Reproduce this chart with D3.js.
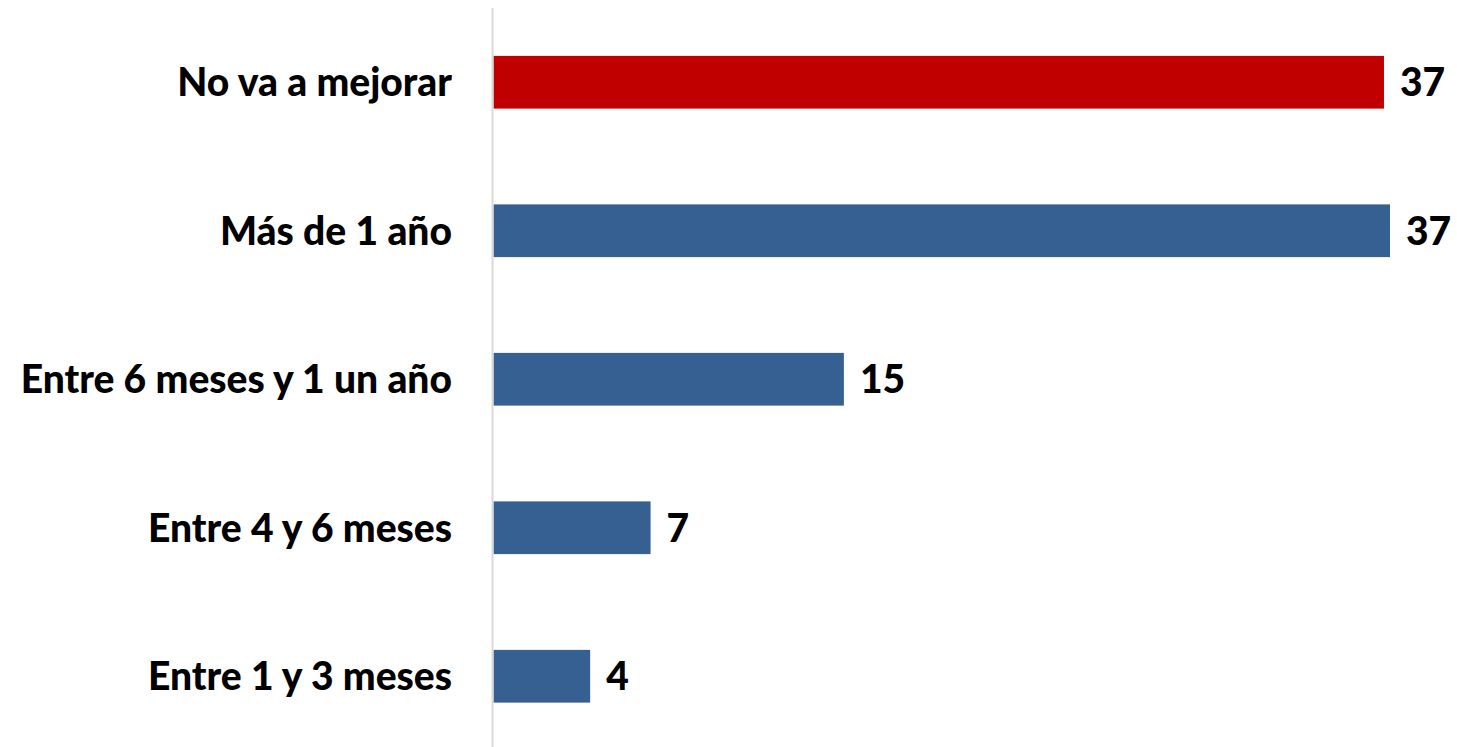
<!DOCTYPE html>
<html><head><meta charset="utf-8">
<script src="https://cdn.jsdelivr.net/npm/d3@7"></script>
<style>body{margin:0;background:#fff}svg{display:block}</style>
</head><body><div id="chart"></div>
<script>
const categories = ["No va a mejorar", "Más de 1 año", "Entre 6 meses y 1 un año", "Entre 4 y 6 meses", "Entre 1 y 3 meses"];
const values = [36.85, 37.1, 14.5, 6.5, 4.0];
const colors = ["#c00000", "#376092", "#376092", "#376092", "#376092"];

const W = 1457, H = 747;
const svg = d3.select("#chart").append("svg").attr("width", W).attr("height", H);
const font = "Lato, 'Open Sans', sans-serif";

const x = d3.scaleLinear().domain([0, 37.1]).range([493.5, 1390]);
const y = d3.scaleBand().domain(categories).range([8, 750.5]).paddingInner(0.645).paddingOuter(0.3225);

svg.selectAll("rect.bar").data(categories).join("rect")
  .attr("class", "bar")
  .attr("x", x(0))
  .attr("y", d => y(d))
  .attr("width", (d, i) => x(values[i]) - x(0))
  .attr("height", y.bandwidth())
  .attr("fill", (d, i) => colors[i]);

svg.append("line").attr("x1", 492.5).attr("x2", 492.5).attr("y1", 8).attr("y2", H)
  .attr("stroke", "#d9d9d9").attr("stroke-width", 2);

svg.selectAll("text.cat").data(categories).join("text")
  .attr("class", "cat")
  .attr("x", 452)
  .attr("y", d => y(d) + y.bandwidth() / 2)
  .attr("dy", "0.36em")
  .attr("text-anchor", "end")
  .attr("font-family", font).attr("font-weight", 900).attr("font-size", 39)
  .attr("fill", "#000")
  .text(d => d);

svg.selectAll("text.val").data(categories).join("text")
  .attr("class", "val")
  .attr("x", (d, i) => x(values[i]) + 16)
  .attr("y", d => y(d) + y.bandwidth() / 2)
  .attr("dy", "0.36em")
  .attr("font-family", font).attr("font-weight", 900).attr("font-size", 39)
  .attr("fill", "#000")
  .text((d, i) => Math.round(values[i]));
</script></body></html>
